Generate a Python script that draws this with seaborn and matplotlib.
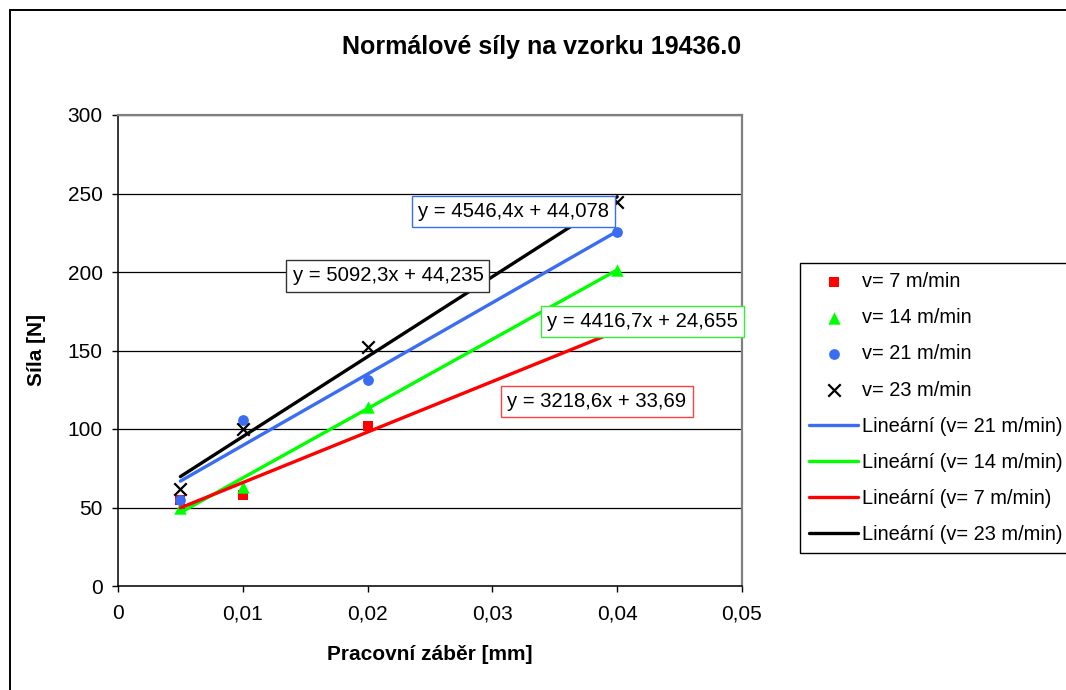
import numpy as np
import matplotlib
matplotlib.use("Agg")
import matplotlib.pyplot as plt
import seaborn as sns
from matplotlib.patches import Rectangle

# ---- data ----
x_mm = [0.005, 0.01, 0.02, 0.04]
f_v7 = [55, 58, 102, 161]
f_v14 = [50, 63, 114, 201]
f_v21 = [55, 106, 131, 225.5]
f_v23 = [62, 100, 152.5, 244.5]
series_labels = ["v= 7 m/min", "v= 14 m/min", "v= 21 m/min", "v= 23 m/min"]
slopes = [3218.6, 4416.7, 4546.4, 5092.3]
intercepts = [33.69, 24.655, 44.078, 44.235]
eq_texts = ["y = 3218,6x + 33,69", "y = 4416,7x + 24,655",
            "y = 4546,4x + 44,078", "y = 5092,3x + 44,235"]
trend_labels = ["Lineární (v= 7 m/min)", "Lineární (v= 14 m/min)",
                "Lineární (v= 21 m/min)", "Lineární (v= 23 m/min)"]
trend_order = [2, 1, 0, 3]
x_ticks = [0, 0.01, 0.02, 0.03, 0.04, 0.05]
x_tick_labels = ["0", "0,01", "0,02", "0,03", "0,04", "0,05"]
y_ticks = [0, 50, 100, 150, 200, 250, 300]
eq_pos = [(0.03838, 117.5), (0.04203, 168.5), (0.03169, 238.5), (0.02163, 197.5)]

colors = ["#FF0000", "#00FF00", "#3A6CF4", "#000000"]
box_edges = ["#FF4040", "#33EE33", "#3A6CF4", "#333333"]
markers = ["s", "^", "o", "x"]
msizes = [55, 80, 60, 80]

sns.set_style("white")
plt.rcParams["font.family"] = ["Liberation Sans", "DejaVu Sans"]
plt.rcParams["text.color"] = "black"
plt.rcParams["xtick.color"] = "black"
plt.rcParams["ytick.color"] = "black"
plt.rcParams["axes.labelcolor"] = "black"

W, H = 1066, 690
fig = plt.figure(figsize=(W / 100, H / 100), dpi=100)
ax = fig.add_axes([118 / W, 1 - 586 / H, (742 - 118) / W, (586 - 115) / H])

series = [f_v7, f_v14, f_v21, f_v23]
for i, ys in enumerate(series):
    kw = dict(linewidth=1.6) if markers[i] == "x" else dict(linewidth=0)
    sns.scatterplot(x=x_mm, y=ys, ax=ax, marker=markers[i], color=colors[i],
                    s=msizes[i], label=series_labels[i], zorder=3, **kw)

xs = np.array([x_mm[0], x_mm[-1]])
for i in trend_order:
    ys = slopes[i] * xs + intercepts[i]
    sns.lineplot(x=xs, y=ys, ax=ax, color=colors[i], linewidth=2.4,
                 label=trend_labels[i], zorder=4)

handles, labels = ax.get_legend_handles_labels()
if ax.get_legend() is not None:
    ax.get_legend().remove()

for i in range(4):
    ax.text(eq_pos[i][0], eq_pos[i][1], eq_texts[i], fontsize=14.6,
            ha="center", va="center", zorder=6,
            bbox=dict(boxstyle="square,pad=0.3", facecolor="white",
                      edgecolor=box_edges[i], linewidth=1.0))

ax.set_xlim(0, 0.05)
ax.set_ylim(0, 300)
ax.set_xticks(x_ticks)
ax.set_xticklabels(x_tick_labels)
ax.set_yticks(y_ticks)
ax.grid(axis="y", color="black", linewidth=0.9)
ax.grid(axis="x", visible=False)
ax.set_axisbelow(True)
ax.tick_params(axis="both", which="major", direction="out", length=4,
               width=1, color="black", labelsize=15, bottom=True, left=True)
ax.tick_params(axis="x", pad=9)
ax.tick_params(axis="y", pad=7)
for s in ["left", "bottom"]:
    ax.spines[s].set_color("black")
    ax.spines[s].set_linewidth(1.1)
for s in ["top", "right"]:
    ax.spines[s].set_color("#808080")
    ax.spines[s].set_linewidth(1.6)
ax.set_xlabel("")
ax.set_ylabel("")

fig.text(430 / W, 1 - 655 / H, "Pracovní záběr [mm]", fontsize=15,
         fontweight="bold", ha="center", va="center")
fig.text(37 / W, 1 - 350 / H, "Síla [N]", fontsize=15, fontweight="bold",
         ha="center", va="center", rotation=90)
fig.text(542 / W, 1 - 47 / H, "Normálové síly na vzorku 19436.0", fontsize=18,
         fontweight="bold", ha="center", va="center")

leg = fig.legend(handles, labels, loc="upper left",
                 bbox_to_anchor=(800 / W, 1 - 263 / H), fontsize=14.4,
                 frameon=True, fancybox=False, framealpha=1,
                 edgecolor="black", borderaxespad=0, borderpad=0.45,
                 labelspacing=0.86, handlelength=2.45, handletextpad=0.2)
leg.get_frame().set_linewidth(1.0)

fig.add_artist(Rectangle((10 / W, -0.2), 1.2, (H - 10) / H + 0.2,
                         transform=fig.transFigure, fill=False,
                         edgecolor="black", linewidth=1.4))

fig.savefig("out.png", dpi=100)
